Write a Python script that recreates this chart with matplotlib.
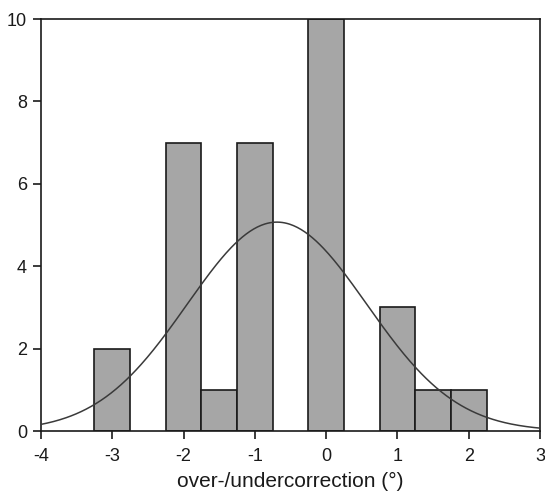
import numpy as np
import matplotlib
matplotlib.use("Agg")
import matplotlib.pyplot as plt

# Histogram data (bin centres and counts)
bin_centers = [-3.0, -2.0, -1.5, -1.0, 0.0, 1.0, 1.5, 2.0]
counts = [2, 7, 1, 7, 10, 3, 1, 1]
bin_width = 0.5

# Fitted normal curve parameters
curve_mean = -0.69
curve_sigma = 1.26
curve_peak = 5.07

x_ticks = [-4, -3, -2, -1, 0, 1, 2, 3]
y_ticks = [0, 2, 4, 6, 8, 10]

plt.rcParams['font.family'] = ['Liberation Sans', 'DejaVu Sans']

fig = plt.figure(figsize=(5.45, 4.94), dpi=100)
ax = fig.add_axes([41/545, 1-431/494, (540-41)/545, (431-19)/494])

ax.bar(bin_centers, counts, width=bin_width, color='#a6a6a6',
       edgecolor='#1a1a1a', linewidth=1.2, zorder=2)

xs = np.linspace(-4, 3, 400)
ys = curve_peak * np.exp(-0.5 * ((xs - curve_mean) / curve_sigma) ** 2)
ax.plot(xs, ys, color='#3a3a3a', linewidth=1.1, zorder=3)

ax.set_xlim(-4, 3)
ax.set_ylim(0, 10)
ax.set_xticks(x_ticks)
ax.set_xticklabels([str(t) for t in x_ticks])
ax.set_yticks(y_ticks)
ax.tick_params(axis='both', direction='out', length=6, width=1.2,
               labelsize=13, color='#1a1a1a', labelcolor='#1a1a1a')
ax.tick_params(axis='x', pad=6)
ax.tick_params(axis='y', pad=4)
for s in ax.spines.values():
    s.set_linewidth(1.2)
    s.set_color('#1a1a1a')

ax.set_xlabel('over-/undercorrection (°)', fontsize=15, color='#1a1a1a', labelpad=5)

fig.savefig('out.png', dpi=100)
